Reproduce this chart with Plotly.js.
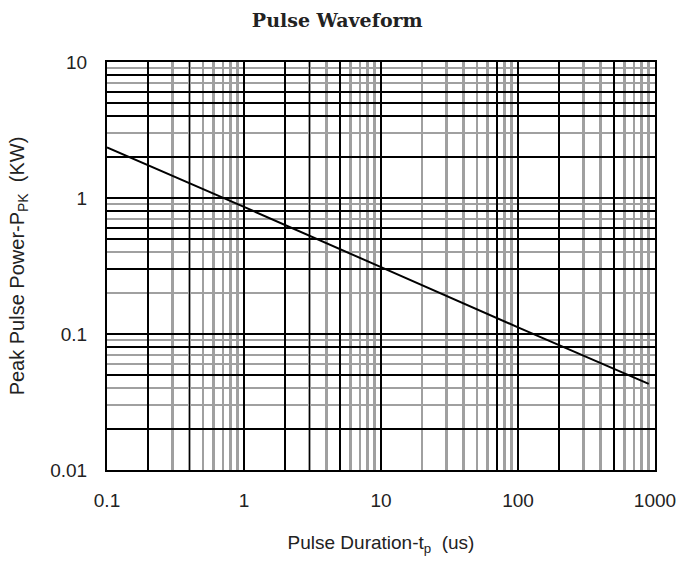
<!DOCTYPE html>
<html>
<head>
<meta charset="utf-8">
<script src="https://cdn.plot.ly/plotly-3.0.1.min.js"></script>
<style>html,body{margin:0;padding:0;background:#fff;}#chart{width:680px;height:561px;}</style>
</head>
<body>
<div id="chart"></div>
<script>
// Data (log-log straight line)
var durationUs = [0.1, 1, 10, 100, 900];
var peakPowerKW = [2.35, 0.86, 0.31, 0.112, 0.043];

// Tick labels
var xTickVals = [0.1, 1, 10, 100, 1000];
var xTickText = ['0.1', '1', '10', '100', '1000'];
var yTickVals = [0.01, 0.1, 1, 10];
var yTickText = ['0.01', '0.1', '1', '10'];

// Gridlines that appear black (others are gray)
var xBlackGrid = [0.2, 0.4, 2, 3, 5, 70, 200, 500];
var yBlackGrid = [0.02, 0.05, 0.08, 0.3, 0.5, 0.6, 0.8, 2, 4, 5, 6, 8];

var tickFont = {family: 'Liberation Sans, Arial, sans-serif', size: 19, color: '#222'};
var titleFont = {family: 'Liberation Sans, Arial, sans-serif', size: 19, color: '#222'};

var traces = [
  {
    x: durationUs, y: peakPowerKW, type: 'scatter', mode: 'lines',
    line: {color: '#000', width: 2}, hoverinfo: 'x+y', showlegend: false
  },
  {
    x: durationUs, y: peakPowerKW, xaxis: 'x2', yaxis: 'y2', type: 'scatter', mode: 'lines',
    line: {color: 'rgba(0,0,0,0)', width: 0}, hoverinfo: 'skip', showlegend: false
  }
];

var layout = {
  width: 680, height: 561,
  margin: {l: 107, r: 25, t: 62, b: 91},
  paper_bgcolor: '#fff', plot_bgcolor: '#fff',
  showlegend: false,
  title: {
    text: '<b>Pulse Waveform</b>',
    font: {family: 'DejaVu Serif, serif', size: 19, color: '#222'},
    x: 0.496, xanchor: 'center', y: 0.963, yanchor: 'middle'
  },
  xaxis: {
    type: 'log', range: [-1, 3],
    tickmode: 'array', tickvals: xTickVals, ticktext: xTickText,
    tickfont: tickFont, ticks: '', ticklen: 0, ticklabelstandoff: 12,
    showgrid: true, gridcolor: '#000', gridwidth: 2,
    minor: {dtick: 'D1', showgrid: true, gridcolor: '#a0a0a0', gridwidth: 2.5, ticks: ''},
    showline: true, linecolor: '#000', linewidth: 2, mirror: true,
    zeroline: false,
    title: {text: 'Pulse Duration-t<sub>p</sub>  (us)', font: titleFont, standoff: 26}
  },
  yaxis: {
    type: 'log', range: [-2, 1],
    tickmode: 'array', tickvals: yTickVals, ticktext: yTickText,
    tickfont: tickFont, ticks: '', ticklen: 0, ticklabelstandoff: 14,
    showgrid: true, gridcolor: '#000', gridwidth: 2,
    minor: {dtick: 'D1', showgrid: true, gridcolor: '#a0a0a0', gridwidth: 2.5, ticks: ''},
    showline: true, linecolor: '#000', linewidth: 2, mirror: true,
    zeroline: false,
    title: {text: 'Peak Pulse Power-P<sub>PK</sub>  (KW)', font: {family: 'Liberation Sans, Arial, sans-serif', size: 20, color: '#222'}, standoff: 20}
  },
  xaxis2: {
    type: 'log', range: [-1, 3], overlaying: 'x', anchor: 'y',
    tickmode: 'array', tickvals: xBlackGrid, showticklabels: false, ticks: '',
    showgrid: true, gridcolor: '#000', gridwidth: 1.5, zeroline: false, showline: false
  },
  yaxis2: {
    type: 'log', range: [-2, 1], overlaying: 'y', anchor: 'x',
    tickmode: 'array', tickvals: yBlackGrid, showticklabels: false, ticks: '',
    showgrid: true, gridcolor: '#000', gridwidth: 1.5, zeroline: false, showline: false
  }
};

Plotly.newPlot('chart', traces, layout, {displayModeBar: false, staticPlot: true});
</script>
</body>
</html>
